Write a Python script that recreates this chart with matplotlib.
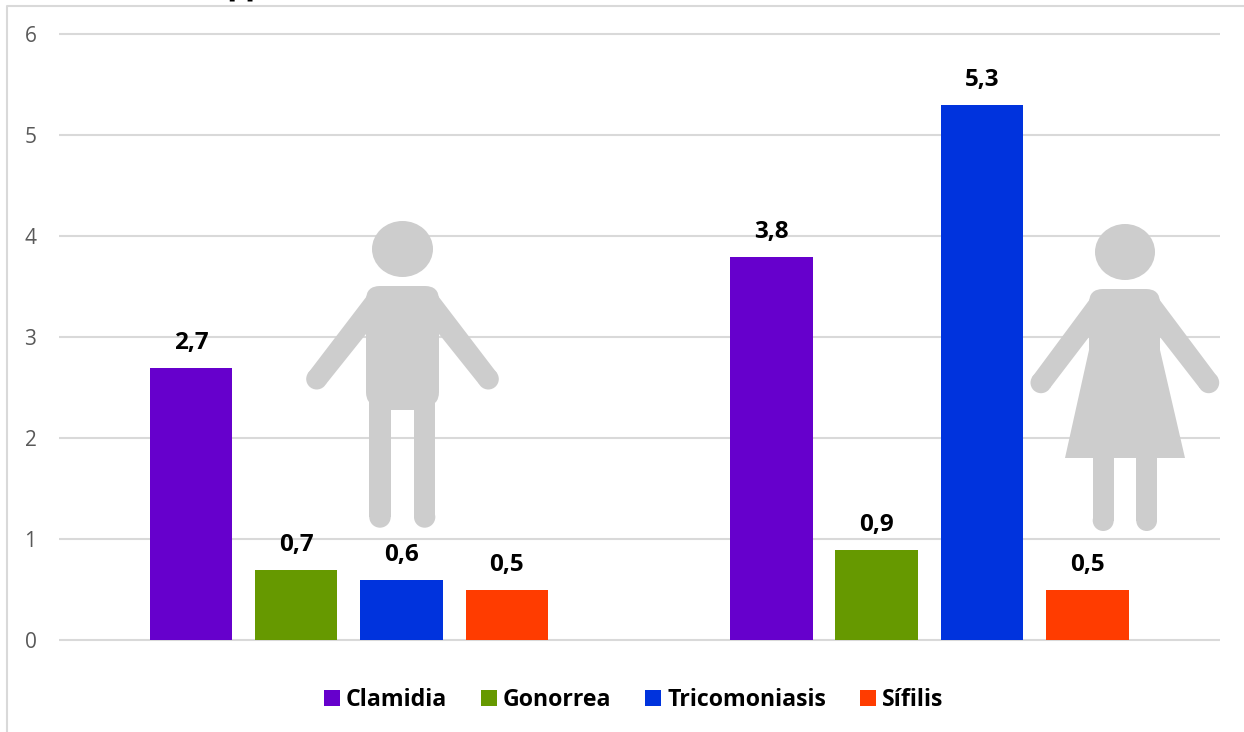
#!/usr/bin/env python3
import matplotlib
matplotlib.use("Agg")
import matplotlib.pyplot as plt
from matplotlib.patches import Ellipse, Polygon, Circle, FancyBboxPatch, Rectangle
from matplotlib.lines import Line2D
import numpy as np

W, H = 1244, 732
FONT = "Open Sans"

series = ["Clamidia", "Gonorrea", "Tricomoniasis", "Sífilis"]
hombres = [2.7, 0.7, 0.6, 0.5]
mujeres = [3.8, 0.9, 5.3, 0.5]
colors = ["#6600CC", "#669900", "#0033DD", "#FF3C00"]
yticks = [0, 1, 2, 3, 4, 5, 6]
GRAY = "#CDCDCD"


def fmt(v):
    return f"{v:.1f}".replace(".", ",")


def leg_bar(ov, x0, x1, y0, y1):
    r = (x1 - x0) / 2
    ov.add_patch(Rectangle((x0, y0), x1 - x0, y1 - y0 - r, fc=GRAY, ec="none", zorder=5))
    ov.add_patch(Circle((x0 + r, y1 - r), r, fc=GRAY, ec="none", zorder=5))


def arm(ov, hx, hy, sx_top, sy_top, sx_low, sy_low, r=10.5):
    # tapered arm: round hand, widening towards the shoulder
    d = np.array([sx_top - hx, sy_top - hy], float)
    d /= np.hypot(*d)
    n = np.array([-d[1], d[0]]) * r
    if (np.array([sx_low - hx, sy_low - hy]) @ n) > 0:
        n = -n
    inner = sx_low + (14 if sx_top > hx else -14)
    ov.add_patch(Polygon([(hx + n[0], hy + n[1]), (sx_top, sy_top), (inner, sy_top),
                          (inner, sy_low), (sx_low, sy_low),
                          (hx - n[0], hy - n[1])], fc=GRAY, ec="none", zorder=5))
    ov.add_patch(Circle((hx, hy), r, fc=GRAY, ec="none", zorder=5))


def torso(ov, x0, x1, y0, y1, r=14):
    ov.add_patch(FancyBboxPatch((x0 + r, y0 + r), x1 - x0 - 2 * r, y1 - y0 - 2 * r,
                                boxstyle=f"round,pad={r},rounding_size={r}",
                                fc=GRAY, ec="none", zorder=5))


def person_man(ov):
    ov.add_patch(Ellipse((402.5, 249), 61, 56, fc=GRAY, ec="none", zorder=5))
    torso(ov, 366, 439, 286, 406)
    ov.add_patch(Rectangle((369.3, 385), 66, 25, fc=GRAY, ec="none", zorder=5))
    arm(ov, 316.7, 379, 370, 292, 366, 334)
    arm(ov, 488.3, 379, 435, 292, 439, 334)
    leg_bar(ov, 369.3, 390.7, 400, 527.7)
    leg_bar(ov, 414, 435.3, 400, 527.7)


def person_woman(ov):
    ov.add_patch(Ellipse((1125, 252), 60, 56, fc=GRAY, ec="none", zorder=5))
    torso(ov, 1089, 1160, 289, 370)
    ov.add_patch(Polygon([(1089, 350), (1160, 350), (1185, 458), (1065, 458)],
                         fc=GRAY, ec="none", zorder=5))
    arm(ov, 1041, 382.7, 1093, 295, 1089, 337)
    arm(ov, 1208.7, 382.7, 1156, 295, 1160, 337)
    leg_bar(ov, 1092.7, 1113.7, 450, 531)
    leg_bar(ov, 1136.3, 1157, 450, 531)


fig = plt.figure(figsize=(W / 100, H / 100), dpi=100, facecolor="white")
ax = fig.add_axes([58.6 / W, 1 - 640.4 / H, (1220 - 59) / W, (640 - 34) / H])
ax.patch.set_alpha(0)

x = np.arange(2)
step = 105.3 / 580.5
bar_w = 82.5 / 580.5
for i, name in enumerate(series):
    vals = [hombres[i], mujeres[i]]
    ax.bar(x + (i - 1.5) * step, vals, bar_w, color=colors[i], label=name, zorder=3)
    for xi, v in zip(x + (i - 1.5) * step, vals):
        ax.annotate(fmt(v), (xi, v), xytext=(0, 13), textcoords="offset pixels",
                    ha="center", va="bottom", fontsize=17.5, fontweight="bold",
                    family=FONT, color="black", zorder=6)

ax.set_xlim(-0.5, 1.5)
ax.set_ylim(0, 6)
ax.set_xticks([])
ax.set_yticks(yticks)
ax.set_yticklabels([str(t) for t in yticks], fontsize=15, family=FONT, color="#595959")
ax.tick_params(axis="y", length=0, pad=16)
ax.grid(axis="y", color="#D9D9D9", lw=1.5, zorder=0, clip_on=False, solid_capstyle="butt")
ax.set_axisbelow(True)
for s in ax.spines.values():
    s.set_visible(False)

fig.legend(loc="center", bbox_to_anchor=(633.5 / W, 1 - 700 / H), bbox_transform=fig.transFigure,
           ncol=4, frameon=False, handlelength=0.7, handleheight=0.7, handletextpad=0.25,
           columnspacing=1.45, prop={"family": FONT, "weight": "bold", "size": 16.7})

# overlay in pixel coordinates for the chart frame and the two pictograms
ov = fig.add_axes([0, 0, 1, 1], zorder=4)
ov.set_xlim(0, W)
ov.set_ylim(H, 0)
ov.axis("off")
ov.patch.set_alpha(0)
ov.add_line(Line2D([7, 7, W], [H, 5.5, 5.5], color="#D9D9D9", lw=1.5))
person_man(ov)
person_woman(ov)
fig.text(241 / W, 1 + 8 / H, "[6]", fontsize=16, family=FONT, ha="center", va="center")

fig.savefig("out.png", dpi=100, facecolor="white")
